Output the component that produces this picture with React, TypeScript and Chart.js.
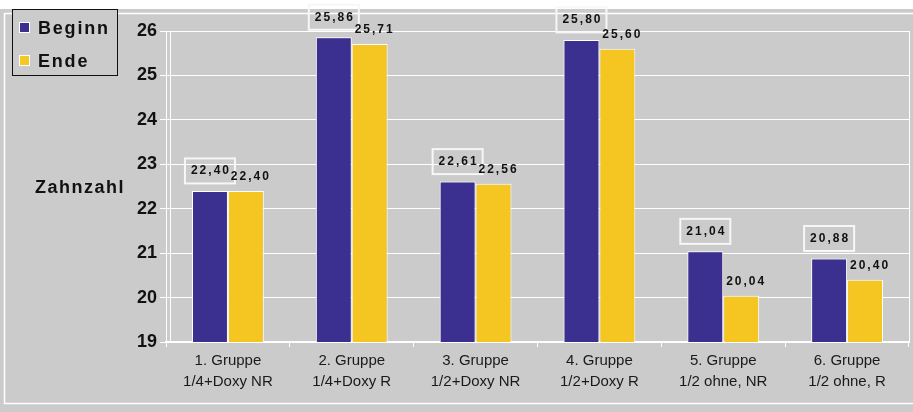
import React, { useEffect, useRef } from "react";
import { Chart, registerables } from "chart.js";

Chart.register(...registerables);

const categories: string[][] = [
  ["1. Gruppe", "1/4+Doxy NR"],
  ["2. Gruppe", "1/4+Doxy R"],
  ["3. Gruppe", "1/2+Doxy NR"],
  ["4. Gruppe", "1/2+Doxy R"],
  ["5. Gruppe", "1/2 ohne, NR"],
  ["6. Gruppe", "1/2 ohne, R"],
];
const beginnValues = [22.4, 25.86, 22.61, 25.8, 21.04, 20.88];
const endeValues = [22.4, 25.71, 22.56, 25.6, 20.04, 20.4];
const seriesNames = ["Beginn", "Ende"];
const yAxisTitle = "Zahnzahl";
const yMin = 19;
const yMax = 26;

const BLUE = "#3b2f90";
const GRAY = "#cbcbcb";
const FONT = "'Liberation Sans', Arial, sans-serif";

const fmt = (v: number) => v.toFixed(2).replace(".", ",");

function yellowFill(ctx: any) {
  const chart = ctx.chart;
  const el = ctx.element;
  if (!el || el.x === undefined || !chart.chartArea) return "#f5c521";
  const w = el.width || 36;
  const x0 = el.x - w / 2;
  const g = chart.ctx.createLinearGradient(x0, 0, x0 + w, 0);
  g.addColorStop(0, "#fcd128");
  g.addColorStop(0.45, "#f3c62a");
  g.addColorStop(0.7, "#e8b82a");
  g.addColorStop(1, "#d2a620");
  return g;
}

function blueFill(ctx: any) {
  const chart = ctx.chart;
  const el = ctx.element;
  if (!el || el.x === undefined || !chart.chartArea) return BLUE;
  const w = el.width || 36;
  const x0 = el.x - w / 2;
  const g = chart.ctx.createLinearGradient(x0, 0, x0 + w, 0);
  g.addColorStop(0, "#3d3193");
  g.addColorStop(0.8, "#3a2e8e");
  g.addColorStop(1, "#2f2578");
  return g;
}

const framePlugin = {
  id: "frame",
  beforeDraw(chart: any) {
    const { ctx, width, height } = chart;
    ctx.save();
    ctx.fillStyle = "#ffffff";
    ctx.fillRect(0, 0, width, height);
    ctx.fillStyle = GRAY;
    ctx.fillRect(0, 9, width, height - 9);
    ctx.strokeStyle = "#ffffff";
    ctx.lineWidth = 1.5;
    ctx.beginPath();
    ctx.moveTo(width, 13.5);
    ctx.lineTo(4.5, 13.5);
    ctx.lineTo(4.5, 403.5);
    ctx.lineTo(width, 403.5);
    ctx.stroke();
    const a = chart.chartArea;
    ctx.lineWidth = 1;
    ctx.beginPath();
    ctx.moveTo(a.left + 4.5, a.top);
    ctx.lineTo(a.left + 4.5, a.bottom);
    ctx.moveTo(a.right + 0.5, a.top);
    ctx.lineTo(a.right + 0.5, a.bottom);
    ctx.stroke();
    ctx.restore();
  },
  afterDraw(chart: any) {
    const { ctx } = chart;
    ctx.save();
    // Y-axis title, horizontal
    ctx.fillStyle = "#111";
    ctx.font = `bold 18px ${FONT}`;
    (ctx as any).letterSpacing = "1.5px";
    ctx.textAlign = "center";
    ctx.textBaseline = "middle";
    ctx.fillText(yAxisTitle, 80, 188);
    // Legend
    ctx.fillStyle = GRAY;
    ctx.fillRect(12, 9, 105, 66);
    ctx.strokeStyle = "#111";
    ctx.lineWidth = 1;
    ctx.strokeRect(12.5, 9.5, 105, 66);
    const colors = [BLUE, "#f8c822"];
    const ys = [28, 61];
    seriesNames.forEach((n, i) => {
      ctx.fillStyle = colors[i];
      ctx.fillRect(19, ys[i] - 6, 11, 11);
      ctx.strokeStyle = "#ffffff";
      ctx.strokeRect(19.5, ys[i] - 5.5, 10, 10);
      ctx.fillStyle = "#111";
      ctx.font = `bold 18px ${FONT}`;
      (ctx as any).letterSpacing = "1.8px";
      ctx.textAlign = "left";
      ctx.textBaseline = "middle";
      ctx.fillText(n, 38, ys[i] + 1);
    });
    ctx.restore();
  },
};

const labelsPlugin = {
  id: "valueLabels",
  afterDatasetsDraw(chart: any) {
    const { ctx } = chart;
    ctx.save();
    ctx.font = `bold 12px ${FONT}`;
    (ctx as any).letterSpacing = "2px";
    ctx.textAlign = "center";
    ctx.textBaseline = "middle";
    chart.data.datasets.forEach((ds: any, di: number) => {
      const meta = chart.getDatasetMeta(di);
      meta.data.forEach((el: any, i: number) => {
        const txt = fmt(ds.data[i]);
        if (di === 0) {
          const cy = el.y - 20;
          const tw = ctx.measureText(txt).width;
          const bw = tw + 10;
          const bh = 25;
          ctx.strokeStyle = "#f7f7f7";
          ctx.lineWidth = 2;
          ctx.strokeRect(el.x - bw / 2, cy - bh / 2, bw, bh);
          ctx.fillStyle = "#111";
          ctx.fillText(txt, el.x + 1, cy);
        } else {
          ctx.fillStyle = "#111";
          ctx.fillText(txt, el.x + 5, el.y - 14);
        }
      });
    });
    ctx.restore();
  },
};

export default function App() {
  const ref = useRef<HTMLCanvasElement | null>(null);
  useEffect(() => {
    if (!ref.current) return;
    const chart = new Chart(ref.current, {
      type: "bar",
      data: {
        labels: categories,
        datasets: [
          {
            label: seriesNames[0],
            data: beginnValues,
            backgroundColor: blueFill as any,
            borderColor: "#ffffff",
            borderWidth: 1,
            barPercentage: 1,
            categoryPercentage: 0.58,
          },
          {
            label: seriesNames[1],
            data: endeValues,
            backgroundColor: yellowFill as any,
            borderColor: "#ffffff",
            borderWidth: 1,
            barPercentage: 1,
            categoryPercentage: 0.58,
          },
        ],
      },
      options: {
        responsive: false,
        animation: false,
        layout: { padding: { left: 0, right: 4, top: 31, bottom: 0 } },
        plugins: {
          legend: { display: false },
          title: { display: false },
          tooltip: { enabled: false },
        },
        scales: {
          x: {
            offset: true,
            grid: {
              display: true,
              offset: true,
              drawOnChartArea: false,
              drawTicks: true,
              tickLength: 5,
              color: "#ffffff",
            },
            border: { display: true, color: "#ffffff", width: 2 },
            ticks: {
              color: "#1a1a1a",
              font: { family: FONT, size: 15, lineHeight: 1.4 },
              padding: 3,
              maxRotation: 0,
              autoSkip: false,
            },
            afterFit: (s: any) => {
              s.height = 70;
            },
          },
          y: {
            min: yMin,
            max: yMax,
            grid: {
              color: "#ffffff",
              lineWidth: 1,
              tickLength: 6,
            },
            border: { display: true, color: "#ffffff", width: 1 },
            ticks: {
              stepSize: 1,
              color: "#111",
              font: { family: FONT, size: 18, weight: "bold" },
              padding: 3,
            },
            afterFit: (s: any) => {
              s.width = 166;
            },
          },
        },
      },
      plugins: [framePlugin, labelsPlugin],
    });
    return () => chart.destroy();
  }, []);
  return (
    <div style={{ position: "fixed", left: 0, top: 0, width: 913, height: 412 }}>
      <canvas ref={ref} width={913} height={412} style={{ display: "block" }} />
    </div>
  );
}
